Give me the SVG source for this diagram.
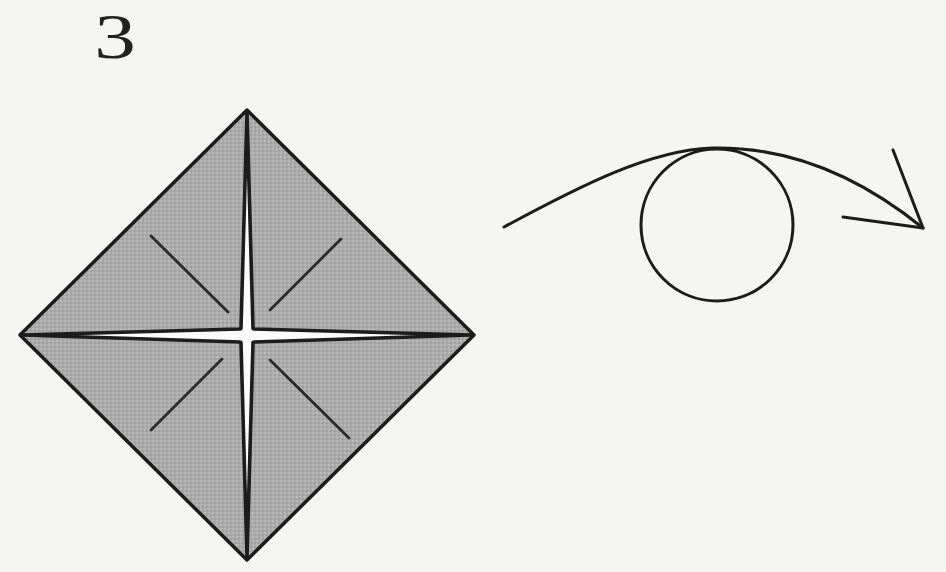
<svg xmlns="http://www.w3.org/2000/svg" width="946" height="572" viewBox="0 0 946 572">
  <defs>
    <pattern id="dots" width="4" height="4" patternUnits="userSpaceOnUse">
      <rect width="4" height="4" fill="#ababab"/>
      <circle cx="1" cy="1" r="0.8" fill="#c6c6c6"/>
      <circle cx="3" cy="3" r="0.8" fill="#949494"/>
    </pattern>
  </defs>
  <style>
    .ink { stroke: #1c1c1c; fill: none; stroke-linecap: round; stroke-linejoin: round; }
    .crease { stroke: #2a2a2a; stroke-width: 2.8; stroke-linecap: round; }
    .label { font-family: "Liberation Serif", "DejaVu Serif", serif; font-size: 64px; fill: #222; }
  </style>
  <rect width="946" height="572" fill="#f5f5f3"/>

  <g id="step-number">
    <text class="label" transform="translate(115,58) scale(1.3,1)" text-anchor="middle">3</text>
  </g>

  <g id="square">
    <polygon points="247,110 474,335 247,560 20,335" class="ink" stroke-width="3.5" style="fill:url(#dots)"/>
    <path d="M247,112 L253,328 Q253,329 254,329 L472,335 L254,342 Q253,342 253,343 L247,558 L241,343 Q241,342 240,342 L22,335 L240,329 Q241,329 241,328 Z" fill="#fbfbfb" stroke="#1c1c1c" stroke-width="3.6" stroke-linejoin="round"/>
    <line class="crease" x1="151" y1="236" x2="228" y2="312"/>
    <line class="crease" x1="341" y1="239" x2="270" y2="310"/>
    <line class="crease" x1="222" y1="359" x2="151" y2="430"/>
    <line class="crease" x1="270" y1="360" x2="349" y2="438"/>
  </g>

  <g id="connectors">
    <path class="ink" stroke-width="3" d="M504,227 C580,186 650,150 712,148 C800,146 870,185 923,228"/>
    <circle class="ink" stroke-width="3" cx="717" cy="225" r="76"/>
    <path class="ink" stroke-width="3" d="M893,150 L923,228 L843,217"/>
  </g>
</svg>
